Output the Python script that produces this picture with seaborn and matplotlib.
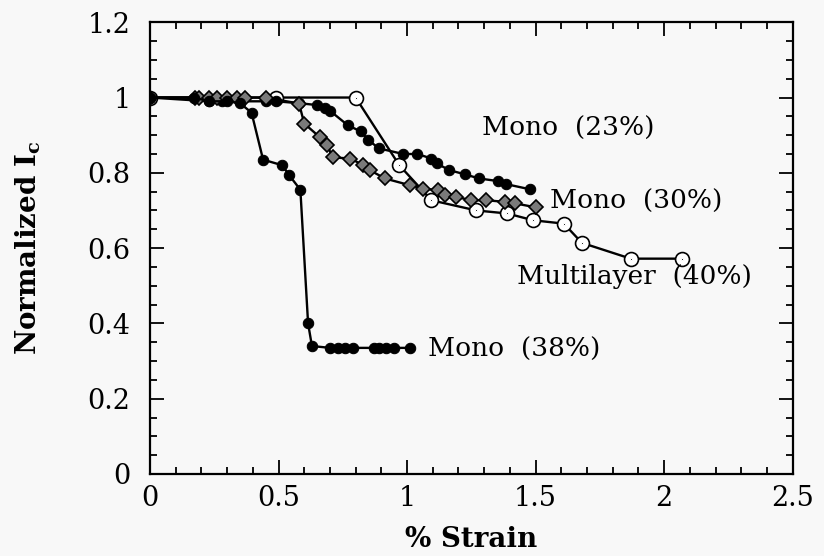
import matplotlib
matplotlib.use("Agg")
import matplotlib.pyplot as plt
import seaborn as sns
import pandas as pd
from matplotlib.ticker import MultipleLocator

# Mono (23%) - filled circles
m23_x = [0, 0.23, 0.28, 0.35, 0.45, 0.49, 0.58, 0.65, 0.68, 0.70, 0.77, 0.82, 0.85, 0.89,
         0.985, 1.04, 1.095, 1.115, 1.165, 1.225, 1.28, 1.355, 1.385, 1.48]
m23_y = [1, 0.99, 0.99, 0.99, 0.99, 0.99, 0.985, 0.98, 0.973, 0.965, 0.926, 0.91, 0.887, 0.865,
         0.85, 0.85, 0.838, 0.825, 0.807, 0.796, 0.785, 0.778, 0.77, 0.756]

# Mono (30%) - grey diamonds
m30_x = [0, 0.175, 0.19, 0.23, 0.26, 0.30, 0.34, 0.37, 0.45, 0.58, 0.60, 0.66, 0.69, 0.71,
         0.78, 0.83, 0.855, 0.914, 1.011, 1.063, 1.121, 1.147, 1.192, 1.25, 1.309, 1.38, 1.419, 1.503]
m30_y = [1, 1, 1, 1, 1, 1, 1, 1, 1, 0.984, 0.931, 0.895, 0.873, 0.841,
         0.838, 0.82, 0.807, 0.785, 0.767, 0.758, 0.754, 0.741, 0.736, 0.727, 0.727, 0.723, 0.719, 0.708]

# Mono (38%) - filled circles
m38_x = [0, 0.17, 0.23, 0.30, 0.35, 0.395, 0.44, 0.515, 0.54, 0.585, 0.615, 0.63,
         0.70, 0.73, 0.76, 0.79, 0.87, 0.89, 0.92, 0.95, 1.01]
m38_y = [1, 1, 0.99, 0.99, 0.985, 0.96, 0.835, 0.82, 0.795, 0.755, 0.40, 0.34,
         0.335, 0.335, 0.335, 0.335, 0.335, 0.335, 0.335, 0.335, 0.335]

# Multilayer (40%) - open circles
ml_x = [0, 0.49, 0.80, 0.97, 1.095, 1.27, 1.39, 1.49, 1.61, 1.68, 1.87, 2.07]
ml_y = [1, 1, 1, 0.82, 0.727, 0.70, 0.692, 0.674, 0.665, 0.614, 0.572, 0.572]

labels = ["Mono  (23%)", "Mono  (30%)", "Multilayer  (40%)", "Mono  (38%)"]
label_x = [1.29, 1.555, 1.426, 1.08]
label_y = [0.918, 0.723, 0.524, 0.332]

xticks = [0, 0.5, 1, 1.5, 2, 2.5]
xticklabels = ["0", "0.5", "1", "1.5", "2", "2.5"]
yticks = [0, 0.2, 0.4, 0.6, 0.8, 1, 1.2]
yticklabels = ["0", "0.2", "0.4", "0.6", "0.8", "1", "1.2"]

sns.set_style("ticks")
plt.rcParams["font.family"] = ["DejaVu Serif"]
plt.rcParams["mathtext.fontset"] = "dejavuserif"
plt.rcParams["text.color"] = "black"
plt.rcParams["axes.labelcolor"] = "black"

fig = plt.figure(figsize=(8.24, 5.56), dpi=100, facecolor="#f8f8f8")
ax = fig.add_axes([0.182, 0.1475, 0.780, 0.8125])
ax.set_facecolor("#f8f8f8")

sns.lineplot(x=ml_x, y=ml_y, sort=False, estimator=None, color="black", lw=1.7,
             marker="o", ms=10, markerfacecolor="white", markeredgecolor="black",
             markeredgewidth=1.2, ax=ax)
sns.lineplot(x=ml_x, y=ml_y, sort=False, estimator=None, color="black", lw=0,
             marker="o", ms=1.5, ax=ax)
sns.lineplot(x=m23_x, y=m23_y, sort=False, estimator=None, color="black", lw=1.7,
             marker="o", ms=7.5, markeredgecolor="black", ax=ax)
sns.lineplot(x=m30_x, y=m30_y, sort=False, estimator=None, color="black", lw=1.7,
             marker="D", ms=7, markerfacecolor="#7a7a7a", markeredgecolor="black",
             markeredgewidth=1.2, ax=ax)
sns.lineplot(x=m38_x, y=m38_y, sort=False, estimator=None, color="black", lw=1.7,
             marker="o", ms=7.5, markeredgecolor="black", ax=ax)

for t, x, y in zip(labels, label_x, label_y):
    ax.text(x, y, t, fontsize=19, va="center", ha="left", color="black")

ax.set_xlim(0, 2.5)
ax.set_ylim(0, 1.2)
ax.set_xticks(xticks)
ax.set_xticklabels(xticklabels)
ax.set_yticks(yticks)
ax.set_yticklabels(yticklabels)
ax.xaxis.set_minor_locator(MultipleLocator(0.1))
ax.yaxis.set_minor_locator(MultipleLocator(0.05))
ax.tick_params(which="both", direction="in", top=True, right=True, width=1.3,
               labelsize=19.5, colors="black", labelcolor="black")
ax.tick_params(which="major", length=10)
ax.tick_params(which="minor", length=5)
ax.tick_params(axis="x", which="major", pad=8)
ax.tick_params(axis="y", which="major", pad=14)
for s in ax.spines.values():
    s.set_linewidth(1.6)
    s.set_color("black")

ax.set_xlabel("% Strain", fontsize=20, fontweight="bold", labelpad=10, color="black")
ax.set_ylabel(r"$\mathbf{Normalized\ I_c}$", fontsize=20, labelpad=32, color="black")

fig.savefig("out.png", dpi=100, facecolor=fig.get_facecolor())
